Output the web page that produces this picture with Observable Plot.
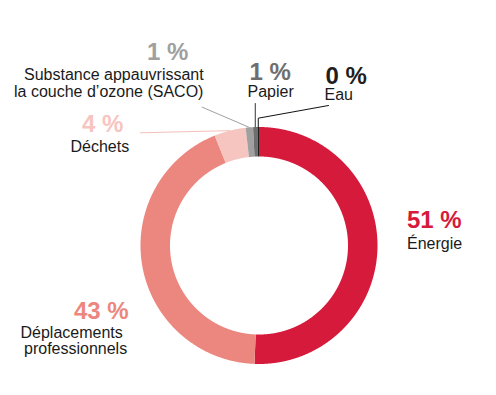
<!DOCTYPE html>
<html><head><meta charset="utf-8">
<script src="https://cdn.jsdelivr.net/npm/d3@7"></script>
<script src="https://cdn.jsdelivr.net/npm/@observablehq/plot@0.6"></script>
<style>html,body{margin:0;padding:0;background:#fff}</style>
</head><body><div id="chart"></div>
<script>
// ---- data ----
const keys = ["energie", "deplacements", "dechets", "saco", "papier", "eau"];
const names = [["Énergie"], ["Déplacements", "professionnels"], ["Déchets"], ["Substance appauvrissant", "la couche d’ozone (SACO)"], ["Papier"], ["Eau"]];
const values = [50.6, 43.3, 4.3, 1.0, 0.6, 0.2];

// ---- styles / layout ----
const colors = ["#d61a3c", "#ec8780", "#f7c5bf", "#a0a0a0", "#6e6e6e", "#1e1e1e"];
const W = 496, H = 395, cx = 258.5, cy = 245, R = 118.5, r0 = 89;
// percent label: [x, baseline]
const pctPos = [[406.5, 227], [73.5, 318], [81.5, 131], [146.5, 59], [249, 79], [325, 83]];
// name label lines: [[x, baseline], ...]
const namePos = [[[406.5, 248]], [[20, 337], [23.5, 353]], [[70, 151.5]], [[23.5, 79], [13.5, 96]], [[247, 96]], [[324, 99]]];
// leader line outer points (null = none)
const leaderPts = [null, null, [[140, 132.3]], [[201.7, 106.7]], ["vertical", 103], [[328, 105], ["up", 117.7]]];
const leaderColors = {dechets: "#f5c0ba", saco: "#a0a0a0", papier: "#333", eau: "#111"};

const arcs = d3.pie().sort(null).value(d => d)(values);
const pt = (a, rad) => [cx + rad * Math.sin(a), cy - rad * Math.cos(a)];

// slice polygons
const slicePts = [];
arcs.forEach((a, i) => {
  const n = Math.max(2, Math.ceil((a.endAngle - a.startAngle) / (Math.PI / 720)));
  const ring = [];
  for (let k = 0; k <= n; k++) ring.push(pt(a.startAngle + (a.endAngle - a.startAngle) * k / n, R));
  for (let k = n; k >= 0; k--) ring.push(pt(a.startAngle + (a.endAngle - a.startAngle) * k / n, r0));
  ring.forEach(([x, y]) => slicePts.push({key: keys[i], x, y}));
});

// leader lines from slice mid-angle
const leaders = [];
arcs.forEach((a, i) => {
  const spec = leaderPts[i];
  if (!spec) return;
  const mid = (a.startAngle + a.endAngle) / 2;
  const [sx, sy] = pt(mid, R);
  let line;
  if (spec[0] === "vertical") line = [[sx, sy], [sx, spec[1]]];
  else if (spec.length === 2 && spec[1][0] === "up") line = [[sx, sy], [sx, spec[1][1]], spec[0]];
  else line = [[sx, sy], spec[0]];
  line.forEach(([x, y]) => leaders.push({key: keys[i], x, y}));
});

const pctLabels = values.map((v, i) => ({key: keys[i], text: Math.round(v) + " %", x: pctPos[i][0], y: pctPos[i][1]}));
const nameLabels = names.flatMap((lines, i) => lines.map((t, j) => ({text: t, x: namePos[i][j][0], y: namePos[i][j][1]})));

const chart = Plot.plot({
  width: W, height: H, margin: 0,
  x: {domain: [0, W], range: [0, W], axis: null},
  y: {domain: [0, H], range: [0, H], axis: null},
  color: {domain: keys, range: colors},
  style: {fontFamily: "'Liberation Sans', Arial, sans-serif", background: "#fff"},
  marks: [
    Plot.line(leaders, {x: "x", y: "y", z: "key", stroke: d => leaderColors[d.key], strokeWidth: 1}),
    Plot.line(slicePts, {x: "x", y: "y", z: "key", fill: "key", stroke: "none", curve: "linear"}),
    Plot.text(pctLabels, {x: "x", y: "y", text: "text", fill: "key", textAnchor: "start", lineAnchor: "bottom", fontSize: 24, fontWeight: "bold"}),
    Plot.text(nameLabels, {x: "x", y: "y", text: "text", fill: "#1a1a1a", textAnchor: "start", lineAnchor: "bottom", fontSize: 16})
  ]
});
document.getElementById("chart").appendChild(chart);
</script></body></html>
